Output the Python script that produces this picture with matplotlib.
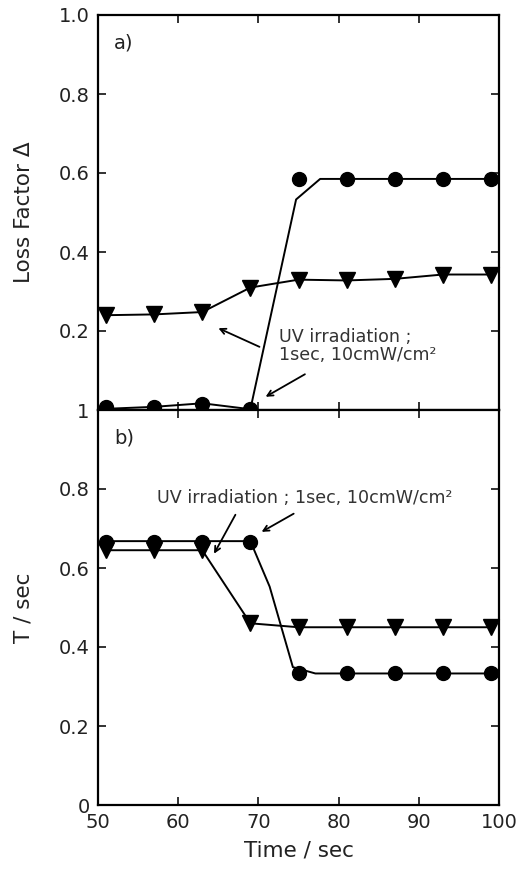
import matplotlib
matplotlib.use("Agg")
import matplotlib.pyplot as plt

# ---- data ----
time = [51, 57, 63, 69, 75, 81, 87, 93, 99]

# panel a) loss factor
loss_circle = [0.007, 0.008, 0.015, 0.002, 0.585, 0.585, 0.585, 0.585, 0.585]
loss_tri = [0.24, 0.242, 0.248, 0.31, 0.33, 0.328, 0.332, 0.343, 0.343]
loss_fit_x = [51, 57, 63, 69, 74.7, 77.7, 99]
loss_fit_y = [0.003, 0.008, 0.017, 0.002, 0.533, 0.585, 0.585]

# panel b) T / sec
t_circle = [0.665, 0.665, 0.665, 0.665, 0.335, 0.335, 0.335, 0.335, 0.335]
t_tri = [0.645, 0.645, 0.645, 0.46, 0.45, 0.45, 0.45, 0.45, 0.45]
t_fit_x = [51, 57, 63, 69, 71.4, 74.3, 77.1, 99]
t_fit_y = [0.668, 0.668, 0.668, 0.668, 0.553, 0.349, 0.333, 0.333]

xticks = [50, 60, 70, 80, 90, 100]
yticks_a = [0, 0.2, 0.4, 0.6, 0.8, 1.0]
yticklabels_a = ["1", "0.2", "0.4", "0.6", "0.8", "1.0"]
yticks_b = [0, 0.2, 0.4, 0.6, 0.8, 1.0]
yticklabels_b = ["0", "0.2", "0.4", "0.6", "0.8", ""]

uv_a = "UV irradiation ;\n1sec, 10cmW/cm\u00b2"
uv_b = "UV irradiation ; 1sec, 10cmW/cm\u00b2"

plt.rcParams['font.family'] = ['DejaVu Sans']

fig = plt.figure(figsize=(5.24, 8.71), dpi=100)
L, R = 98 / 524, 499 / 524
ax_a = fig.add_axes([L, 1 - 410 / 871, R - L, 395 / 871])
ax_b = fig.add_axes([L, 1 - 805 / 871, R - L, 395 / 871])

fs = 14
for ax in (ax_a, ax_b):
    ax.set_xlim(50, 100)
    ax.set_ylim(0, 1.0)
    ax.set_xticks(xticks)
    for s in ax.spines.values():
        s.set_linewidth(1.6)
    ax.tick_params(direction='in', length=6, width=1.3, top=True, right=True,
                   labelsize=fs, colors='#222222', pad=6)

ax_a.set_yticks(yticks_a)
ax_a.set_yticklabels(yticklabels_a)
ax_a.tick_params(axis='x', labelbottom=False)
ax_b.set_yticks(yticks_b)
ax_b.set_yticklabels(yticklabels_b)

lw = 1.4
# panel a
ax_a.plot(loss_fit_x, loss_fit_y, color='black', lw=lw, zorder=2)
ax_a.plot(time, loss_circle, 'o', color='black', ms=10, zorder=3, clip_on=False)
ax_a.plot(time, loss_tri, 'v-', color='black', ms=11, lw=lw, zorder=3, clip_on=False)
ax_a.text(52, 0.93, "a)", fontsize=fs, color='#222222', va='center')
ax_a.text(72.6, 0.162, uv_a, fontsize=12.6, color='#333333', va='center',
          linespacing=1.0)
ax_a.annotate("", xy=(64.7, 0.21), xytext=(70.45, 0.157),
              arrowprops=dict(arrowstyle='->', color='black', lw=1.3))
ax_a.annotate("", xy=(70.6, 0.03), xytext=(76.1, 0.094),
              arrowprops=dict(arrowstyle='->', color='black', lw=1.3))
ax_a.set_ylabel("Loss Factor \u0394", fontsize=15.5, color='#222222', labelpad=18)

# panel b
ax_b.plot(t_fit_x, t_fit_y, color='black', lw=lw, zorder=2)
ax_b.plot(time, t_circle, 'o', color='black', ms=10, zorder=3, clip_on=False)
ax_b.plot(time, t_tri, 'v-', color='black', ms=11, lw=lw, zorder=3, clip_on=False)
ax_b.text(52, 0.93, "b)", fontsize=fs, color='#222222', va='center')
ax_b.text(57.4, 0.778, uv_b, fontsize=12.6, color='#333333', va='center')
ax_b.annotate("", xy=(64.3, 0.63), xytext=(67.3, 0.741),
              arrowprops=dict(arrowstyle='->', color='black', lw=1.3))
ax_b.annotate("", xy=(70.1, 0.688), xytext=(74.7, 0.741),
              arrowprops=dict(arrowstyle='->', color='black', lw=1.3))
ax_b.set_ylabel("T / sec", fontsize=15.5, color='#222222', labelpad=18)
ax_b.set_xlabel("Time / sec", fontsize=15.5, color='#222222', labelpad=6)

fig.savefig("out.png", dpi=100)
